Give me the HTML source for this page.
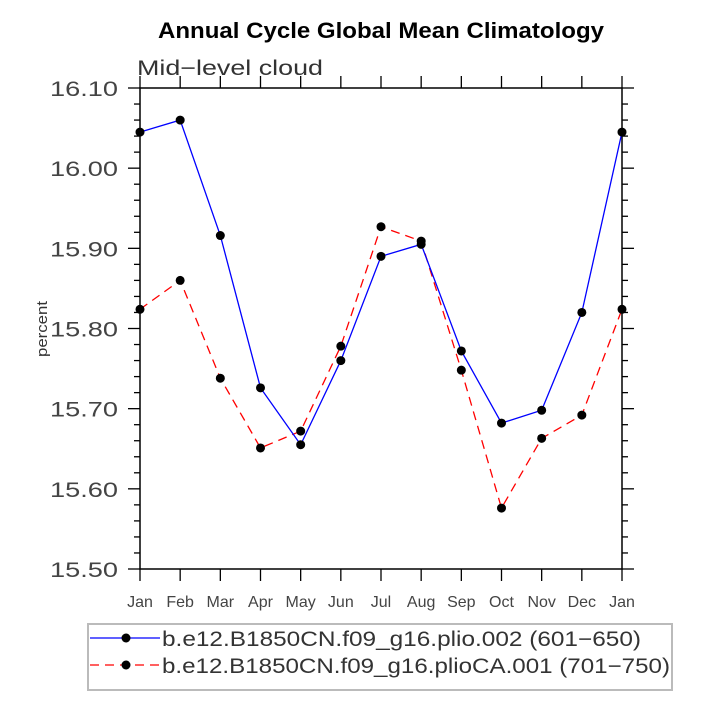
<!DOCTYPE html>
<html><head><meta charset="utf-8"><style>
body{margin:0;background:#fff;}
svg{display:block;font-family:"Liberation Sans",sans-serif;}
</style></head><body>
<svg id="chart" width="708" height="708">
<text x="158" y="38" font-size="22" font-weight="bold" textLength="446" lengthAdjust="spacingAndGlyphs">Annual Cycle Global Mean Climatology</text>
<text x="137" y="75" font-size="21" fill="#333" textLength="186" lengthAdjust="spacingAndGlyphs">Mid−level cloud</text>
<text transform="translate(47,329) rotate(-90)" text-anchor="middle" font-size="15" fill="#333" textLength="56" lengthAdjust="spacingAndGlyphs">percent</text>
<g id="axes"></g>
<g id="series"></g>
<rect x="88" y="624" width="584" height="66" fill="none" stroke="#bbb" stroke-width="2"/>
<g>
<line x1="90" y1="638" x2="160" y2="638" stroke="#00f" stroke-width="1.3"/>
<circle cx="126" cy="638" r="4.5"/>
<text x="162" y="646" font-size="21" fill="#333" textLength="479" lengthAdjust="spacingAndGlyphs">b.e12.B1850CN.f09_g16.plio.002 (601−650)</text>
</g>
<g>
<line x1="90" y1="665" x2="160" y2="665" stroke="#f00" stroke-width="1.3" stroke-dasharray="9,6"/>
<circle cx="126" cy="665" r="4.5"/>
<text x="162" y="673" font-size="21" fill="#333" textLength="508" lengthAdjust="spacingAndGlyphs">b.e12.B1850CN.f09_g16.plioCA.001 (701−750)</text>
</g>
</svg>
<script>
const months=["Jan","Feb","Mar","Apr","May","Jun","Jul","Aug","Sep","Oct","Nov","Dec","Jan"];
const blueVals=[16.045,16.060,15.916,15.726,15.655,15.760,15.890,15.905,15.772,15.682,15.698,15.820,16.045];
const redVals=[15.824,15.860,15.738,15.651,15.672,15.778,15.927,15.909,15.748,15.576,15.663,15.692,15.824];
const yTicks=["15.50","15.60","15.70","15.80","15.90","16.00","16.10"];
const NS="http://www.w3.org/2000/svg";
const L=140,R=622,T=88,B=569,ymin=15.5,ymax=16.1;
const xs=i=>L+i*(R-L)/12;
const ys=v=>B-(v-ymin)/(ymax-ymin)*(B-T);
function mk(tag,attrs,parent){const e=document.createElementNS(NS,tag);for(const k in attrs)e.setAttribute(k,attrs[k]);parent.appendChild(e);return e;}
const ax=document.getElementById('axes');
const fr=mk('rect',{x:L,y:T,width:R-L,height:B-T,fill:'none',stroke:'#000','stroke-width':1.5},ax);


for(let k=0;k<=30;k++){
  const v=ymin+k*0.02,y=ys(v),len=(k%5===0)?12:6;
  mk('line',{x1:L-len,y1:y,x2:L,y2:y,stroke:'#000','stroke-width':1.3},ax);
  mk('line',{x1:R,y1:y,x2:R+len,y2:y,stroke:'#000','stroke-width':1.3},ax);
}
yTicks.forEach(t=>{
  const e=mk('text',{x:118,y:ys(parseFloat(t))+8,'text-anchor':'end','font-size':21,fill:'#444',textLength:68,lengthAdjust:'spacingAndGlyphs'},ax);
  e.textContent=t;
  
  
});
months.forEach((m,i)=>{
  const x=xs(i);
  mk('line',{x1:x,y1:B,x2:x,y2:B+12,stroke:'#000','stroke-width':1.3},ax);
  mk('line',{x1:x,y1:T-12,x2:x,y2:T,stroke:'#000','stroke-width':1.3},ax);
  const e=mk('text',{x:x,y:607,'text-anchor':'middle','font-size':16,fill:'#444'},ax);
  e.textContent=m;
  
  
});
const sg=document.getElementById('series');
function draw(vals,color,dash,name){
  const g=mk('g',{},sg);
  
  
  const pts=vals.map((v,i)=>xs(i)+','+ys(v)).join(' ');
  const a={points:pts,fill:'none',stroke:color,'stroke-width':1.3};
  if(dash)a['stroke-dasharray']=dash;
  mk('polyline',a,g);
  vals.forEach((v,i)=>{
    const c=mk('circle',{cx:xs(i),cy:ys(v),r:4.5},g);
    
    
  });
}
draw(redVals,'#f00','9,6','series-plioCA');
draw(blueVals,'#00f',null,'series-plio');
</script>
</body></html>
